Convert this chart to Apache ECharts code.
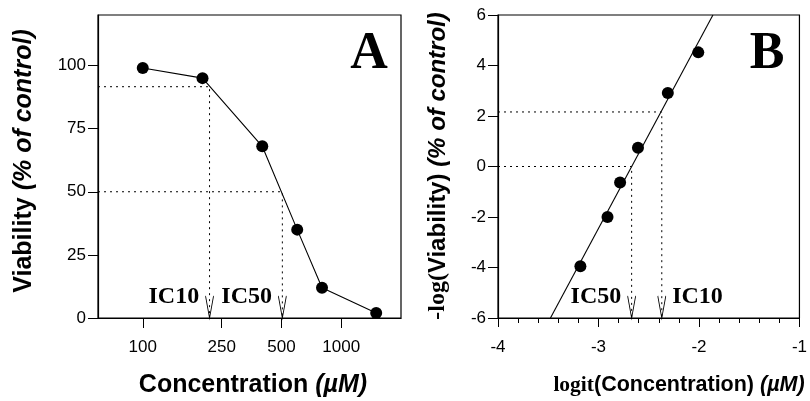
<!DOCTYPE html>
<html><head><meta charset="utf-8">
<script src="https://cdn.jsdelivr.net/npm/echarts@6/dist/echarts.min.js"></script>
<style>html,body{margin:0;padding:0;background:#fff}#c{width:810px;height:401px}</style>
</head><body><div id="c"></div>
<script>
// Panel A data
const concA = [100, 200, 400, 600, 800, 1500];
const viabA = [99, 95, 68, 35, 12, 2];
const xTicksA = [100, 250, 500, 1000];
const yTicksA = [0, 25, 50, 75, 100];
const xRangeA = [59.5, 2000];
const yRangeA = [0, 120];
const ic10A = [217, 91.6];
const ic50A = [505, 50];
// Panel B data
const logitB = [-3.18, -2.91, -2.785, -2.607, -2.31, -2.007];
const negLogB = [-3.95, -2.0, -0.63, 0.74, 2.91, 4.52];
const fitXB = [-3.478, -1.861];
const fitYB = [-6, 6];
const xTicksB = [-4, -3, -2, -1];
const yTicksB = [-6, -4, -2, 0, 2, 4, 6];
const xRangeB = [-4, -1];
const yRangeB = [-6, 6];
const ic50B = [-2.67, 0];
const ic10B = [-2.37, 2.16];

const chart = echarts.init(document.getElementById('c'));
const sans = 'Liberation Sans, Arial, sans-serif';
const serif = 'Liberation Serif, Times New Roman, serif';
const black = '#000';

function guide(ic, xMin, yMin) {
  return [[xMin, ic[1]], [ic[0], ic[1]], [ic[0], yMin]];
}
const arrowSym = 'path://M0,0L4,22L8,0';
function icLabel(name, pos) {
  return {show: true, position: pos, distance: 6, offset: [0, -10], formatter: name,
    fontFamily: serif, fontWeight: 'bold', fontSize: 24, color: black, opacity: 1};
}
function axisCommon(extra) {
  return Object.assign({
    axisLine: {show: true, onZero: false, lineStyle: {color: black, width: 1.2}},
    splitLine: {show: false},
  }, extra);
}
function rich(size) {
  return {
    b: {fontFamily: sans, fontWeight: 'bold', fontSize: size, color: black},
    i: {fontFamily: sans, fontWeight: 'bold', fontStyle: 'italic', fontSize: size, color: black},
    s: {fontFamily: serif, fontWeight: 'bold', fontSize: size, color: black}
  };
}
const tickFont = {fontFamily: sans, fontSize: 17, color: black};

const option = {
  animation: false,
  backgroundColor: '#fff',
  grid: [
    {left: 98, top: 15, width: 303, height: 303, show: true, borderColor: black, borderWidth: 1.2},
    {left: 498, top: 15, width: 303, height: 303, show: true, borderColor: black, borderWidth: 1.2}
  ],
  xAxis: [
    axisCommon({type: 'log', logBase: 10, gridIndex: 0, min: xRangeA[0], max: xRangeA[1],
      axisTick: {show: true, length: 10, inside: false, customValues: xTicksA, lineStyle: {color: black}},
      axisLabel: Object.assign({show: true, customValues: xTicksA, margin: 21,
        formatter: v => String(Math.round(v))}, tickFont),
      minorTick: {show: false}}),
    axisCommon({type: 'value', gridIndex: 1, min: xRangeB[0], max: xRangeB[1], interval: 1,
      axisTick: {show: true, length: 9, inside: false, lineStyle: {color: black}},
      minorTick: {show: true, splitNumber: 5, length: 5, lineStyle: {color: black, width: 1}},
      axisLabel: Object.assign({show: true, customValues: xTicksB, margin: 21}, tickFont)})
  ],
  yAxis: [
    axisCommon({type: 'value', gridIndex: 0, min: yRangeA[0], max: yRangeA[1],
      axisTick: {show: true, length: 10, inside: false, customValues: yTicksA, lineStyle: {color: black}},
      axisLabel: Object.assign({show: true, customValues: yTicksA, margin: 12}, tickFont)}),
    axisCommon({type: 'value', gridIndex: 1, min: yRangeB[0], max: yRangeB[1], interval: 2,
      axisTick: {show: true, length: 10, inside: false, lineStyle: {color: black}},
      axisLabel: Object.assign({show: true, customValues: yTicksB, margin: 12}, tickFont)})
  ],
  graphic: [
    {type: 'text', x: 369, y: 55, style: {text: 'A', font: 'bold 52px ' + serif, fill: black, align: 'center', verticalAlign: 'middle'}},
    {type: 'text', x: 767, y: 55, style: {text: 'B', font: 'bold 52px ' + serif, fill: black, align: 'center', verticalAlign: 'middle'}},
    {type: 'text', x: 24, y: 161, rotation: Math.PI / 2,
      style: {text: '{b|Viability }{i|(% of control)}', rich: rich(25), align: 'center', verticalAlign: 'middle'}},
    {type: 'text', x: 438, y: 166, rotation: Math.PI / 2,
      style: {text: '{s|-log(}{b|Viability) }{i|(% of control)}', rich: rich(24), align: 'center', verticalAlign: 'middle'}},
    {type: 'text', x: 253, y: 385,
      style: {text: '{b|Concentration }{i|(µM)}', rich: rich(25), align: 'center', verticalAlign: 'middle'}},
    {type: 'text', x: 679, y: 385,
      style: {text: '{s|logit}{b|(Concentration) }{i|(µM)}', rich: rich(21.5), align: 'center', verticalAlign: 'middle'}}
  ],
  series: [
    // Panel A guides
    {type: 'line', xAxisIndex: 0, yAxisIndex: 0, data: guide(ic10A, xRangeA[0], yRangeA[0]), symbol: 'none',
      lineStyle: {color: black, width: 1, type: [2, 4]}, z: 1},
    {type: 'line', xAxisIndex: 0, yAxisIndex: 0, data: guide(ic50A, xRangeA[0], yRangeA[0]), symbol: 'none',
      lineStyle: {color: black, width: 1, type: [2, 4]}, z: 1},
    // Panel A data
    {type: 'line', xAxisIndex: 0, yAxisIndex: 0, data: concA.map((c, i) => [c, viabA[i]]),
      symbol: 'circle', symbolSize: 12, itemStyle: {color: black, opacity: 1}, lineStyle: {color: black, width: 1.1}, z: 3},
    // Panel A arrows
    {type: 'scatter', xAxisIndex: 0, yAxisIndex: 0, symbol: arrowSym, symbolSize: [8, 22], symbolOffset: [0, -11],
      itemStyle: {color: 'rgba(0,0,0,0)', borderColor: black, borderWidth: 1.3, opacity: 1}, z: 2,
      data: [
        {name: 'IC10', value: [ic10A[0], yRangeA[0]], label: icLabel('IC10', 'left')},
        {name: 'IC50', value: [ic50A[0], yRangeA[0]], label: icLabel('IC50', 'left')}
      ]},
    // Panel B guides
    {type: 'line', xAxisIndex: 1, yAxisIndex: 1, data: guide(ic50B, xRangeB[0], yRangeB[0]), symbol: 'none',
      lineStyle: {color: black, width: 1, type: [2, 4]}, z: 1},
    {type: 'line', xAxisIndex: 1, yAxisIndex: 1, data: guide(ic10B, xRangeB[0], yRangeB[0]), symbol: 'none',
      lineStyle: {color: black, width: 1, type: [2, 4]}, z: 1},
    // Panel B fit line
    {type: 'line', xAxisIndex: 1, yAxisIndex: 1, data: fitXB.map((x, i) => [x, fitYB[i]]), symbol: 'none',
      lineStyle: {color: black, width: 1.1}, z: 2},
    // Panel B points
    {type: 'scatter', xAxisIndex: 1, yAxisIndex: 1, data: logitB.map((x, i) => [x, negLogB[i]]),
      symbol: 'circle', symbolSize: 12, itemStyle: {color: black, opacity: 1}, z: 3},
    // Panel B arrows
    {type: 'scatter', xAxisIndex: 1, yAxisIndex: 1, symbol: arrowSym, symbolSize: [8, 22], symbolOffset: [0, -11],
      itemStyle: {color: 'rgba(0,0,0,0)', borderColor: black, borderWidth: 1.3, opacity: 1}, z: 2,
      data: [
        {name: 'IC50', value: [ic50B[0], yRangeB[0]], label: icLabel('IC50', 'left')},
        {name: 'IC10', value: [ic10B[0], yRangeB[0]], label: icLabel('IC10', 'right')}
      ]}
  ]
};
chart.setOption(option);
</script>
</body></html>
